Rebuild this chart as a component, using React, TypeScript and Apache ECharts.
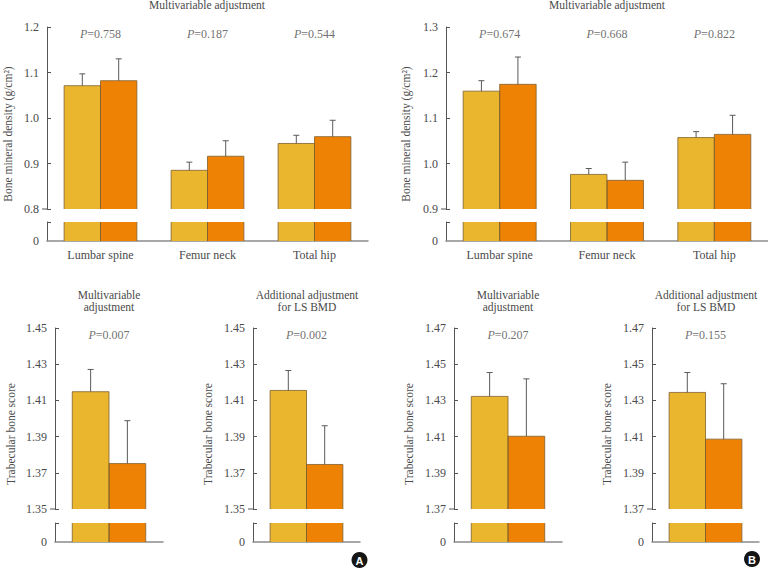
import React, { useEffect, useRef } from 'react';
import * as echarts from 'echarts';

// ---------- data ----------
const SITES = ['Lumbar spine', 'Femur neck', 'Total hip'];
const SINGLE = [''];

// Panel A, BMD (multivariable adjustment)
const A_BMD_CTRL = [1.071, 0.885, 0.944];
const A_BMD_CTRL_ERR = [1.097, 0.903, 0.962];
const A_BMD_CASE = [1.082, 0.916, 0.959];
const A_BMD_CASE_ERR = [1.130, 0.950, 0.995];
const A_BMD_P = ['0.758', '0.187', '0.544'];
const A_BMD_TICKS = [0.8, 0.9, 1.0, 1.1, 1.2];

// Panel B, BMD (multivariable adjustment)
const B_BMD_CTRL = [1.159, 0.976, 1.057];
const B_BMD_CTRL_ERR = [1.182, 0.989, 1.070];
const B_BMD_CASE = [1.174, 0.963, 1.064];
const B_BMD_CASE_ERR = [1.234, 1.003, 1.106];
const B_BMD_P = ['0.674', '0.668', '0.822'];
const B_BMD_TICKS = [0.9, 1.0, 1.1, 1.2, 1.3];

// Panel A, TBS
const A_TBS_MV_CTRL = [1.4148];
const A_TBS_MV_CTRL_ERR = [1.4271];
const A_TBS_MV_CASE = [1.3751];
const A_TBS_MV_CASE_ERR = [1.3988];
const A_TBS_MV_P = ['0.007'];
const A_TBS_LS_CTRL = [1.4155];
const A_TBS_LS_CTRL_ERR = [1.4265];
const A_TBS_LS_CASE = [1.3746];
const A_TBS_LS_CASE_ERR = [1.396];
const A_TBS_LS_P = ['0.002'];
const A_TBS_TICKS = [1.35, 1.37, 1.39, 1.41, 1.43, 1.45];

// Panel B, TBS
const B_TBS_MV_CTRL = [1.4322];
const B_TBS_MV_CTRL_ERR = [1.4454];
const B_TBS_MV_CASE = [1.4102];
const B_TBS_MV_CASE_ERR = [1.4419];
const B_TBS_MV_P = ['0.207'];
const B_TBS_LS_CTRL = [1.4344];
const B_TBS_LS_CTRL_ERR = [1.4454];
const B_TBS_LS_CASE = [1.4086];
const B_TBS_LS_CASE_ERR = [1.4392];
const B_TBS_LS_P = ['0.155'];
const B_TBS_TICKS = [1.37, 1.39, 1.41, 1.43, 1.45, 1.47];

const STUB_MAX = 0.5;

// ---------- styles ----------
const FONT = 'Liberation Serif';
const FS = 12;
const TXT = '#4a4a4a';
const YAXIS = '#555555';
const XAXIS = '#8c8c8c';
const YELLOW = '#E9B62E';
const ORANGE = '#EE8204';
const BORDER = '#80602e';
const ERR = '#5a5a5a';
const GAP = 0.32;

type Panel = {
  cats: string[];
  ctrl: number[]; ctrlErr: number[]; cas: number[]; casErr: number[];
  p: string[]; ticks: number[]; digits: number;
  left: number; width: number; top: number; height: number; stubTop: number; stubHeight: number;
  showCats: boolean;
};

const PANELS: Panel[] = [
  { cats: SITES, ctrl: A_BMD_CTRL, ctrlErr: A_BMD_CTRL_ERR, cas: A_BMD_CASE, casErr: A_BMD_CASE_ERR, p: A_BMD_P, ticks: A_BMD_TICKS, digits: 1,
    left: 47, width: 321, top: 27, height: 182, stubTop: 222, stubHeight: 19, showCats: true },
  { cats: SITES, ctrl: B_BMD_CTRL, ctrlErr: B_BMD_CTRL_ERR, cas: B_BMD_CASE, casErr: B_BMD_CASE_ERR, p: B_BMD_P, ticks: B_BMD_TICKS, digits: 1,
    left: 446, width: 322, top: 27, height: 182, stubTop: 222, stubHeight: 19, showCats: true },
  { cats: SINGLE, ctrl: A_TBS_MV_CTRL, ctrlErr: A_TBS_MV_CTRL_ERR, cas: A_TBS_MV_CASE, casErr: A_TBS_MV_CASE_ERR, p: A_TBS_MV_P, ticks: A_TBS_TICKS, digits: 2,
    left: 55, width: 108, top: 328, height: 181, stubTop: 523, stubHeight: 19, showCats: false },
  { cats: SINGLE, ctrl: A_TBS_LS_CTRL, ctrlErr: A_TBS_LS_CTRL_ERR, cas: A_TBS_LS_CASE, casErr: A_TBS_LS_CASE_ERR, p: A_TBS_LS_P, ticks: A_TBS_TICKS, digits: 2,
    left: 253, width: 107, top: 328, height: 181, stubTop: 523, stubHeight: 19, showCats: false },
  { cats: SINGLE, ctrl: B_TBS_MV_CTRL, ctrlErr: B_TBS_MV_CTRL_ERR, cas: B_TBS_MV_CASE, casErr: B_TBS_MV_CASE_ERR, p: B_TBS_MV_P, ticks: B_TBS_TICKS, digits: 2,
    left: 454, width: 108, top: 328, height: 181, stubTop: 523, stubHeight: 19, showCats: false },
  { cats: SINGLE, ctrl: B_TBS_LS_CTRL, ctrlErr: B_TBS_LS_CTRL_ERR, cas: B_TBS_LS_CASE, casErr: B_TBS_LS_CASE_ERR, p: B_TBS_LS_P, ticks: B_TBS_TICKS, digits: 2,
    left: 652, width: 107, top: 328, height: 181, stubTop: 523, stubHeight: 19, showCats: false },
];

const TITLES = [
  { text: 'Multivariable adjustment', x: 207, y: 5 },
  { text: 'Multivariable adjustment', x: 607, y: 5 },
  { text: 'Multivariable\nadjustment', x: 109, y: 301 },
  { text: 'Additional adjustment\nfor LS BMD', x: 307, y: 301 },
  { text: 'Multivariable\nadjustment', x: 508, y: 301 },
  { text: 'Additional adjustment\nfor LS BMD', x: 706, y: 301 },
];
const YNAMES = [
  { text: 'Bone mineral density (g/cm²)', x: 8, y: 134 },
  { text: 'Bone mineral density (g/cm²)', x: 406, y: 134 },
  { text: 'Trabecular bone score', x: 11, y: 434 },
  { text: 'Trabecular bone score', x: 208, y: 434 },
  { text: 'Trabecular bone score', x: 409, y: 434 },
  { text: 'Trabecular bone score', x: 607, y: 434 },
];
const BADGES = [
  { text: 'A', x: 359.5, y: 560 },
  { text: 'B', x: 752, y: 559 },
];

function barEdges(api: any, i: number, side: number) {
  const center = api.coord([i, 0])[0];
  const band = api.size([1, 0])[0];
  const bw = (band * (1 - GAP)) / 2;
  const xL = side < 0 ? center - bw : center;
  return { xL, xR: xL + bw, xc: xL + bw / 2 };
}

function buildOption() {
  const grid: any[] = [];
  const xAxis: any[] = [];
  const yAxis: any[] = [];
  const series: any[] = [];
  const textStyle = { fontFamily: FONT, fontSize: FS, color: TXT };

  PANELS.forEach((pn, k) => {
    const up = 2 * k;
    const lo = 2 * k + 1;
    const yMin = pn.ticks[0];
    const yMax = pn.ticks[pn.ticks.length - 1];
    grid.push({ left: pn.left, top: pn.top, width: pn.width, height: pn.height });
    grid.push({ left: pn.left, top: pn.stubTop, width: pn.width, height: pn.stubHeight });

    xAxis.push({ type: 'category', gridIndex: up, data: pn.cats, show: false });
    xAxis.push({
      type: 'category', gridIndex: lo, data: pn.cats,
      axisLine: { show: true, lineStyle: { color: XAXIS, width: 1.5 } },
      axisTick: { show: false },
      axisLabel: { show: pn.showCats, margin: 8, ...textStyle },
    });
    yAxis.push({
      type: 'value', gridIndex: up, min: yMin, max: yMax,
      axisLine: { show: true, lineStyle: { color: YAXIS, width: 1 } },
      axisTick: { show: true, inside: true, length: 4, customValues: pn.ticks, lineStyle: { color: YAXIS } },
      axisLabel: { customValues: pn.ticks, margin: 8, formatter: (v: number) => v.toFixed(pn.digits), ...textStyle },
      splitLine: { show: false },
    });
    yAxis.push({
      type: 'value', gridIndex: lo, min: 0, max: STUB_MAX,
      axisLine: { show: true, lineStyle: { color: YAXIS, width: 1 } },
      axisTick: { show: true, inside: true, length: 4, customValues: [STUB_MAX], lineStyle: { color: YAXIS } },
      axisLabel: { customValues: [0], margin: 8, formatter: () => '0', ...textStyle },
      splitLine: { show: false },
    });

    const barBase = { type: 'bar', barGap: '0%', barCategoryGap: `${GAP * 100}%`, clip: true };
    const ys = { color: YELLOW, borderWidth: 0 };
    const os = { color: ORANGE, borderWidth: 0 };
    series.push({ ...barBase, xAxisIndex: up, yAxisIndex: up, data: pn.ctrl, itemStyle: ys });
    series.push({ ...barBase, xAxisIndex: up, yAxisIndex: up, data: pn.cas, itemStyle: os });
    series.push({ ...barBase, xAxisIndex: lo, yAxisIndex: lo, data: pn.ctrl, itemStyle: ys });
    series.push({ ...barBase, xAxisIndex: lo, yAxisIndex: lo, data: pn.cas, itemStyle: os });

    const errData: number[][] = [];
    pn.cats.forEach((_, i) => {
      errData.push([i, pn.ctrl[i], pn.ctrlErr[i], -1]);
      errData.push([i, pn.cas[i], pn.casErr[i], 1]);
    });
    // outlines (open at the axis break) + upper error bars
    series.push({
      type: 'custom', xAxisIndex: up, yAxisIndex: up, data: errData, z: 5,
      encode: { x: 0, y: 1 },
      renderItem: (_p: any, api: any) => {
        const i = api.value(0);
        const v = api.value(1);
        const e = api.value(2);
        const side = api.value(3);
        const { xL, xR, xc } = barEdges(api, i, side);
        const yTop = api.coord([i, v])[1];
        const yErr = api.coord([i, e])[1];
        const yBot = api.coord([i, yMin])[1];
        return {
          type: 'group',
          children: [
            { type: 'polyline', shape: { points: [[xL, yBot], [xL, yTop], [xR, yTop], [xR, yBot]] },
              style: { stroke: BORDER, lineWidth: 0.8, fill: null } },
            { type: 'line', shape: { x1: xc, y1: yTop, x2: xc, y2: yErr }, style: { stroke: ERR, lineWidth: 1 } },
            { type: 'line', shape: { x1: xc - 3, y1: yErr, x2: xc + 3, y2: yErr }, style: { stroke: ERR, lineWidth: 1 } },
          ],
        };
      },
    });
    series.push({
      type: 'custom', xAxisIndex: lo, yAxisIndex: lo, data: errData, z: 5,
      encode: { x: 0, y: 1 },
      renderItem: (_p: any, api: any) => {
        const i = api.value(0);
        const side = api.value(3);
        const { xL, xR } = barEdges(api, i, side);
        const y0 = api.coord([i, 0])[1];
        const y1 = api.coord([i, STUB_MAX])[1];
        return {
          type: 'group',
          children: [
            { type: 'line', shape: { x1: xL, y1: y0, x2: xL, y2: y1 }, style: { stroke: BORDER, lineWidth: 0.8 } },
            { type: 'line', shape: { x1: xR, y1: y0, x2: xR, y2: y1 }, style: { stroke: BORDER, lineWidth: 0.8 } },
          ],
        };
      },
    });

    series.push({
      type: 'scatter', xAxisIndex: up, yAxisIndex: up, symbolSize: 0, silent: true,
      data: pn.cats.map((_, i) => [i, yMax]),
      label: {
        show: true, position: 'bottom', distance: 1,
        formatter: (prm: any) => `{i|P}=${pn.p[prm.dataIndex]}`,
        fontFamily: FONT, fontSize: 12, color: TXT,
        rich: { i: { fontStyle: 'italic', fontFamily: FONT, fontSize: 12, color: TXT } },
      },
    });
  });

  const graphic: any[] = [];
  // small outward tick at the bottom of each upper axis (break mark)
  PANELS.forEach((pn) => {
    const yb = pn.top + pn.height;
    graphic.push({ type: 'line', shape: { x1: pn.left - 5, y1: yb, x2: pn.left, y2: yb }, style: { stroke: YAXIS, lineWidth: 1 } });
  });
  TITLES.forEach((t) => {
    graphic.push({
      type: 'text', x: t.x, y: t.y,
      style: { text: t.text, align: 'center', verticalAlign: 'middle', textAlign: 'center', textVerticalAlign: 'middle',
        font: `11.5px "${FONT}"`, fill: TXT, lineHeight: 12.5 },
    });
  });
  YNAMES.forEach((t) => {
    graphic.push({
      type: 'text', x: t.x, y: t.y, rotation: Math.PI / 2,
      style: { text: t.text, align: 'center', verticalAlign: 'middle', textAlign: 'center', textVerticalAlign: 'middle',
        font: `11.5px "${FONT}"`, fill: TXT },
    });
  });
  BADGES.forEach((b) => {
    graphic.push({ type: 'circle', shape: { cx: b.x, cy: b.y, r: 8 }, style: { fill: '#151515' } });
    graphic.push({
      type: 'text', x: b.x, y: b.y + 0.5,
      style: { text: b.text, align: 'center', verticalAlign: 'middle', textAlign: 'center', textVerticalAlign: 'middle',
        font: 'bold 11px "Liberation Sans"', fill: '#ffffff' },
    });
  });

  return { animation: false, backgroundColor: '#ffffff', textStyle: { fontFamily: FONT }, grid, xAxis, yAxis, series, graphic };
}

export default function App() {
  const ref = useRef<HTMLDivElement>(null);
  useEffect(() => {
    if (!ref.current) return;
    const chart = echarts.init(ref.current, undefined, { renderer: 'svg' });
    chart.setOption(buildOption() as any);
    return () => chart.dispose();
  }, []);
  return <div ref={ref} style={{ position: 'absolute', left: 0, top: 0, width: 768, height: 568 }} />;
}
